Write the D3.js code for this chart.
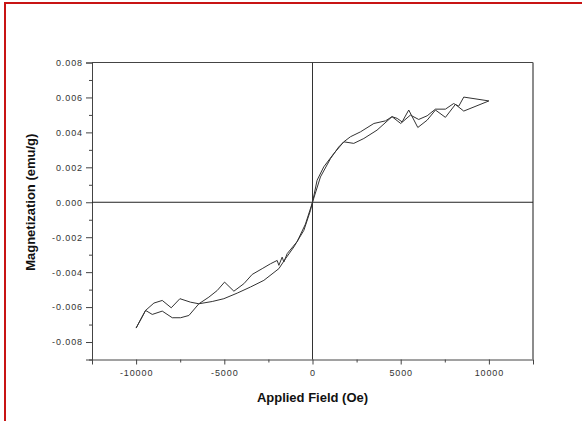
<!DOCTYPE html>
<html>
<head>
<meta charset="utf-8">
<script src="https://cdn.jsdelivr.net/npm/d3@7"></script>
<style>
  html, body { margin: 0; padding: 0; background: #fff; }
  svg { display: block; }
</style>
</head>
<body>
<div id="chart"></div>
<script>
// descending branch, +10000 -> -10000 Oe
const downField = [10000, 8575, 8290, 8000, 7535, 6970, 6500, 6020, 5550, 5000, 4510, 4140, 3480, 2720, 2150, 1775, 1210, 640, 260, 0,
  -400, -870, -1435, -1624, -1719, -1907, -2003, -2380, -2852, -3419, -3890, -4457, -4986, -5402, -5875, -6440, -6912, -7517, -8008, -8517, -8990, -9462, -10000];
const downMag = [0.0058, 0.00602, 0.0055, 0.00565, 0.00533, 0.00533, 0.00495, 0.00474, 0.00499, 0.00451, 0.00490, 0.00466, 0.00451, 0.00403, 0.00375, 0.00346, 0.00279, 0.00203, 0.00126, 0,
  -0.00125, -0.00225, -0.00294, -0.00342, -0.00314, -0.00361, -0.00333, -0.00352, -0.0038, -0.00413, -0.00466, -0.00509, -0.00457, -0.00505, -0.00543, -0.00581, -0.00572, -0.00552, -0.00604, -0.00562, -0.00577, -0.00619, -0.0072];

// ascending branch, -10000 -> +10000 Oe
const upField = [-10000, -9462, -9084, -8517, -7950, -7479, -7006, -6440, -5683, -5025, -4268, -3513, -2757, -1907, -1530, -1058, -491, -113, 0,
  450, 1020, 1490, 1775, 2340, 2910, 3660, 4510, 4800, 5080, 5456, 5970, 6500, 6970, 7535, 8100, 8575, 10000];
const upMag = [-0.0072, -0.00619, -0.00642, -0.00623, -0.00661, -0.00661, -0.00648, -0.00581, -0.00568, -0.00552, -0.0052, -0.00485, -0.00447, -0.0038, -0.00323, -0.00256, -0.00161, -0.00046, 0,
  0.00145, 0.0025, 0.00317, 0.00346, 0.00337, 0.00365, 0.00413, 0.0049, 0.0048, 0.0046, 0.00528, 0.00428, 0.0047, 0.00528, 0.00486, 0.0056, 0.00522, 0.0058];

const xTicks = [-10000, -5000, 0, 5000, 10000];
const xMinorTicks = [-12500, -7500, -2500, 2500, 7500, 12500];
const yTicks = [-0.008, -0.006, -0.004, -0.002, 0, 0.002, 0.004, 0.006, 0.008];
const yMinorTicks = [-0.009, -0.007, -0.005, -0.003, -0.001, 0.001, 0.003, 0.005, 0.007];

const width = 582;
const height = 421;

const svg = d3.select("#chart")
  .append("svg")
  .attr("width", width)
  .attr("height", height)
  .style("background-color", "#fff");

// red outer border (only top and left visible)
svg.append("rect")
  .attr("x", 5).attr("y", 3)
  .attr("width", 600).attr("height", 440)
  .attr("fill", "none")
  .attr("stroke", "#c81414")
  .attr("stroke-width", 2);

const x = d3.scaleLinear().domain([-12500, 12500]).range([92, 533]);
const y = d3.scaleLinear().domain([-0.009, 0.008]).range([359.5, 62.5]);

const fmtY = d => (d < 0 ? "-" : "") + Math.abs(d).toFixed(3);

// minor ticks first
svg.append("g")
  .attr("transform", `translate(0,${y(-0.009)})`)
  .call(d3.axisBottom(x).tickValues(xMinorTicks).tickSize(3).tickFormat(""))
  .call(g => g.select(".domain").remove());

svg.append("g")
  .attr("transform", `translate(${x(-12500)},0)`)
  .call(d3.axisLeft(y).tickValues(yMinorTicks).tickSize(3).tickFormat(""))
  .call(g => g.select(".domain").remove());

// major axes
const xAxis = svg.append("g")
  .attr("transform", `translate(0,${y(-0.009)})`)
  .call(d3.axisBottom(x).tickValues(xTicks).tickSize(5).tickPadding(5).tickFormat(d => String(d)));

const yAxis = svg.append("g")
  .attr("transform", `translate(${x(-12500)},0)`)
  .call(d3.axisLeft(y).tickValues(yTicks).tickSize(6).tickPadding(3).tickFormat(fmtY));

[xAxis, yAxis].forEach(a => {
  a.selectAll("text")
    .style("font-family", "Arial, 'Liberation Sans', sans-serif")
    .style("font-size", "9px")
    .style("letter-spacing", "0.9px")
    .attr("fill", "#333");
});

svg.selectAll(".domain, .tick line").attr("stroke", "#444");

// top and right frame
svg.append("line")
  .attr("x1", x(-12500)).attr("x2", x(12500))
  .attr("y1", y(0.008)).attr("y2", y(0.008))
  .attr("stroke", "#444");
svg.append("line")
  .attr("x1", x(12500)).attr("x2", x(12500))
  .attr("y1", y(0.008)).attr("y2", y(-0.009))
  .attr("stroke", "#666")
  .attr("stroke-width", 1.5);

// zero lines
svg.append("line")
  .attr("x1", x(0)).attr("x2", x(0))
  .attr("y1", y(0.008)).attr("y2", y(-0.009))
  .attr("stroke", "#333");
svg.append("line")
  .attr("x1", x(-12500)).attr("x2", x(12500))
  .attr("y1", y(0)).attr("y2", y(0))
  .attr("stroke", "#222");

// loop
const line = d3.line()
  .x(d => x(d[0]))
  .y(d => y(d[1]));

const branches = [
  downField.map((f, i) => [f, downMag[i]]),
  upField.map((f, i) => [f, upMag[i]])
];

svg.append("g")
  .selectAll("path")
  .data(branches)
  .enter().append("path")
  .attr("d", line)
  .attr("fill", "none")
  .attr("stroke", "#333")
  .attr("stroke-width", 1);

// axis titles
svg.append("text")
  .attr("x", (x(-12500) + x(12500)) / 2)
  .attr("y", 402)
  .attr("text-anchor", "middle")
  .style("font-family", "Arial, 'Liberation Sans', sans-serif")
  .style("font-size", "13px")
  .style("font-weight", "bold")
  .attr("fill", "#111")
  .text("Applied Field (Oe)");

svg.append("text")
  .attr("transform", `translate(35,${y(0)}) rotate(-90)`)
  .attr("text-anchor", "middle")
  .style("font-family", "Arial, 'Liberation Sans', sans-serif")
  .style("font-size", "13px")
  .style("font-weight", "bold")
  .attr("fill", "#111")
  .text("Magnetization (emu/g)");
</script>
</body>
</html>
